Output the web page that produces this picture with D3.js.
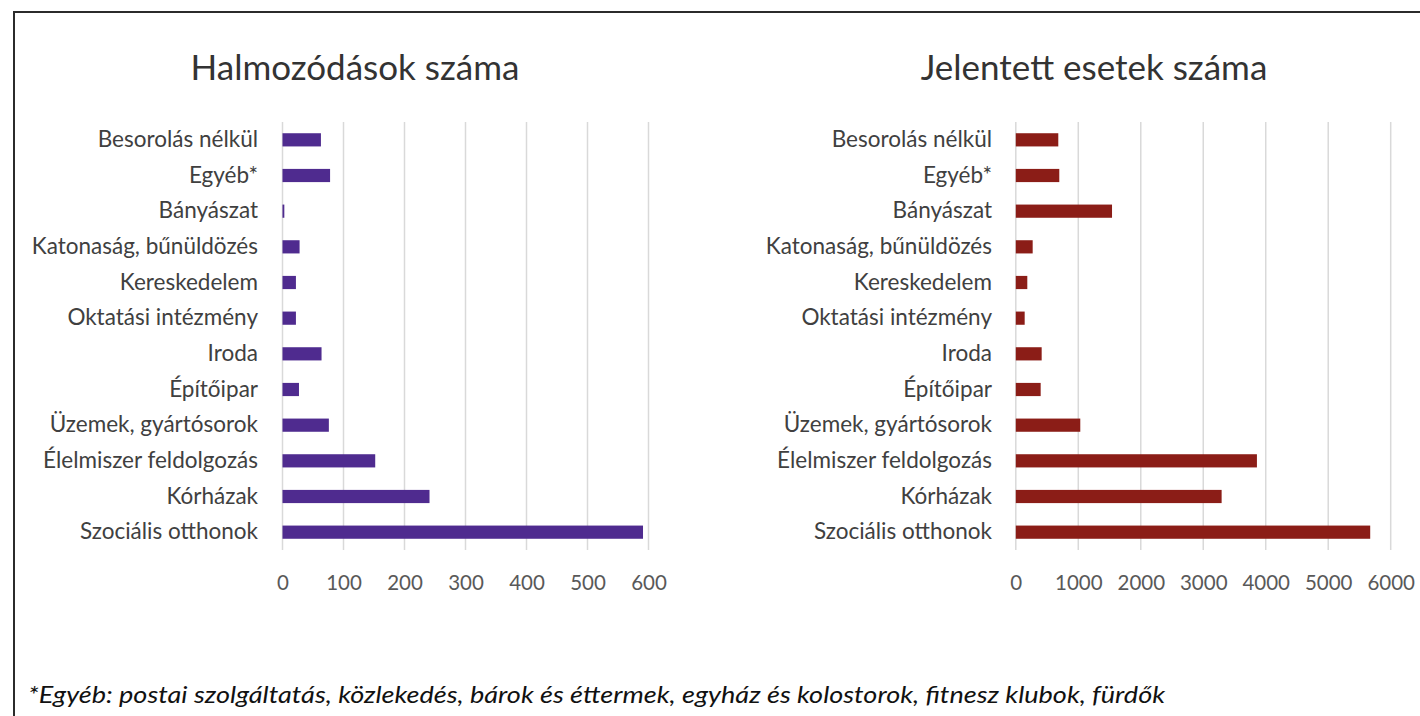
<!DOCTYPE html>
<html>
<head>
<meta charset="utf-8">
<script src="https://cdn.jsdelivr.net/npm/d3@7"></script>
<style>
  html, body { margin: 0; padding: 0; background: #fff; }
  svg { display: block; }
</style>
</head>
<body>
<svg id="chart" width="1420" height="716"></svg>
<script>
// categories, top to bottom
var categories = [
  'Besorolás nélkül', 'Egyéb*', 'Bányászat', 'Katonaság, bűnüldözés',
  'Kereskedelem', 'Oktatási intézmény', 'Iroda', 'Építőipar',
  'Üzemek, gyártósorok', 'Élelmiszer feldolgozás', 'Kórházak', 'Szociális otthonok'
];

// Halmozódások száma
var clusters = [63, 78, 3, 28, 22, 22, 64, 27, 76, 152, 241, 591];
var clusterTicks = [0, 100, 200, 300, 400, 500, 600];

// Jelentett esetek száma
var cases = [680, 696, 1540, 270, 184, 142, 414, 398, 1032, 3859, 3294, 5672];
var caseTicks = [0, 1000, 2000, 3000, 4000, 5000, 6000];

var footnote = '*Egyéb: postai szolgáltatás, közlekedés, bárok és éttermek, egyház és kolostorok, fitnesz klubok, fürdők';

var FONT = 'Lato, "Open Sans", sans-serif';

var svg = d3.select('#chart');

// outer frame (runs off the right and bottom edge)
svg.append('rect')
  .attr('x', 14).attr('y', 12)
  .attr('width', 1420).attr('height', 720)
  .attr('fill', 'none')
  .attr('stroke', '#2b2b2b')
  .attr('stroke-width', 2);

function drawPanel(opt) {
  var x = d3.scaleLinear().domain([0, opt.ticks[opt.ticks.length - 1]]).range([opt.left, opt.right]);
  var y = d3.scaleBand().domain(categories).range([122, 550]).paddingInner(0.63).paddingOuter(0.315);

  var g = svg.append('g');

  // title
  g.append('text')
    .attr('x', opt.titleX).attr('y', 66)
    .attr('text-anchor', 'middle')
    .attr('dominant-baseline', 'central')
    .attr('font-family', FONT)
    .attr('font-size', '35px')
    .attr('fill', '#333')
    .text(opt.title);

  // vertical gridlines
  g.selectAll('.grid')
    .data(opt.ticks)
    .enter().append('line')
    .attr('x1', function(d) { return x(d); })
    .attr('x2', function(d) { return x(d); })
    .attr('y1', 122).attr('y2', 550)
    .attr('stroke', '#d9d9d9')
    .attr('stroke-width', 1.5);

  // bars
  g.selectAll('.bar')
    .data(opt.values)
    .enter().append('rect')
    .attr('x', x(0))
    .attr('y', function(d, i) { return y(categories[i]); })
    .attr('width', function(d) { return x(d) - x(0); })
    .attr('height', y.bandwidth())
    .attr('fill', opt.color);

  // x axis labels
  var xa = g.append('g')
    .attr('transform', 'translate(0,550)')
    .call(d3.axisBottom(x).tickValues(opt.ticks).tickSize(0).tickPadding(25).tickFormat(d3.format('d')));
  xa.select('.domain').remove();
  xa.selectAll('text')
    .attr('font-family', FONT)
    .attr('font-size', '20.5px')
    .attr('fill', '#595959');

  // category labels
  var ya = g.append('g')
    .attr('transform', 'translate(' + opt.left + ',0)')
    .call(d3.axisLeft(y).tickSize(0).tickPadding(opt.left - opt.labelX));
  ya.select('.domain').remove();
  ya.selectAll('text')
    .attr('font-family', FONT)
    .attr('font-size', '22.5px')
    .attr('fill', '#404040');
}

drawPanel({
  title: 'Halmozódások száma', titleX: 355,
  values: clusters, ticks: clusterTicks,
  left: 282.5, right: 648.5, labelX: 258,
  color: '#4f2b8f'
});

drawPanel({
  title: 'Jelentett esetek száma', titleX: 1094,
  values: cases, ticks: caseTicks,
  left: 1015.8, right: 1390.7, labelX: 992,
  color: '#8b1d17'
});

// footnote
svg.append('text')
  .attr('x', 28).attr('y', 693)
  .attr('dominant-baseline', 'central')
  .attr('font-family', FONT)
  .attr('font-style', 'italic')
  .attr('font-size', '24px')
  .attr('textLength', 1137)
  .attr('lengthAdjust', 'spacingAndGlyphs')
  .attr('fill', '#111')
  .text(footnote);
</script>
</body>
</html>
